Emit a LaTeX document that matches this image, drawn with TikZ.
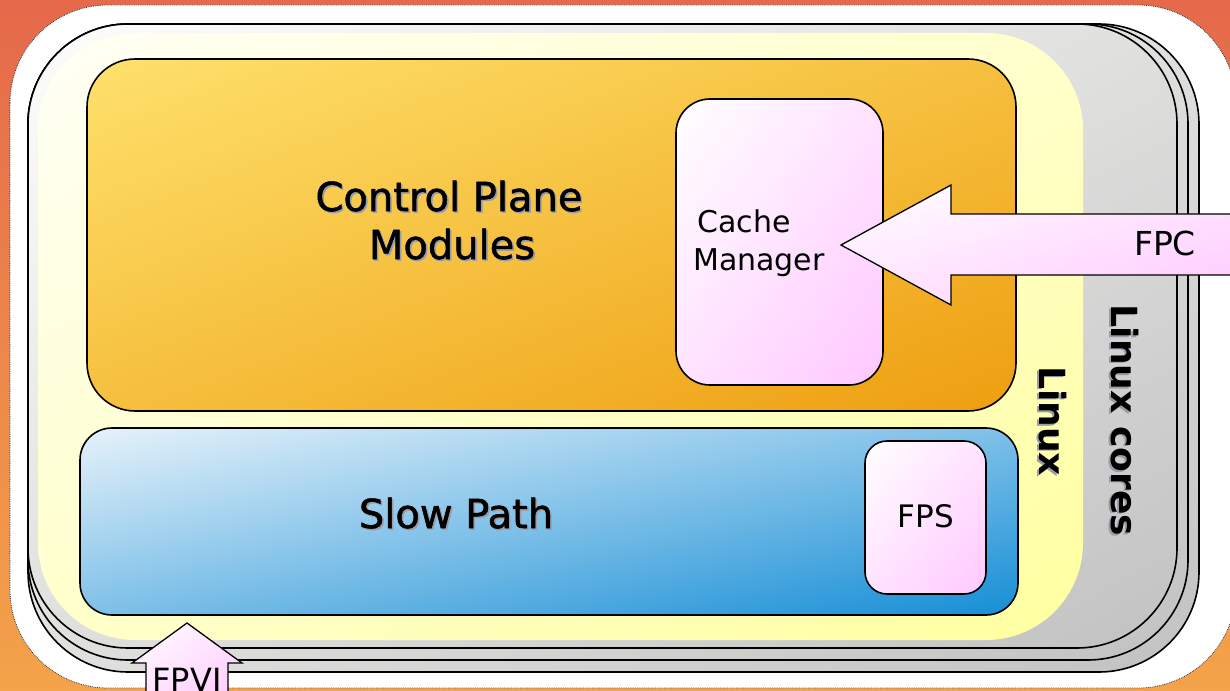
\documentclass[tikz,border=0pt]{standalone}
\usepackage{fontspec}
\setmainfont{DejaVu Sans}
\newfontfamily\heavyfont{DejaVu Sans}[FakeBold=1.3]
\usetikzlibrary{shadings}
\definecolor{bgTop}{HTML}{E5694B}
\definecolor{bgBot}{HTML}{F4A34A}
\definecolor{cardA}{HTML}{FDFDFB}
\definecolor{cardB}{HTML}{C2C2C2}
\definecolor{ylA}{HTML}{FFFFF6}
\definecolor{ylB}{HTML}{FFFFA0}
\definecolor{orA}{HTML}{FEE16C}
\definecolor{orB}{HTML}{EE9E10}
\definecolor{blA}{HTML}{E6F2FA}
\definecolor{blB}{HTML}{168ED6}
\definecolor{pkA}{HTML}{FFFFFF}
\definecolor{pkB}{HTML}{FFC8FF}
\definecolor{shadowGray}{HTML}{9C9CA8}
\newcommand\shtext[1]{\makebox[0pt][l]{\hspace{1.6pt}\raisebox{-1.6pt}{\textcolor{shadowGray}{#1}}}#1}
\begin{document}
\begin{tikzpicture}[x=1pt,y=-1pt,
  diag/.style 2 args={upper left=#1, lower right=#2,
    upper right=#1!50!#2, lower left=#1!50!#2},
  panel/.style={draw=black, line width=1.6pt, inner sep=0pt, outer sep=0pt,
    anchor=north west},
  card/.style={panel, line width=1.6pt, rounded corners=100pt, diag={cardA}{cardB}},
  label/.style={inner sep=0pt, anchor=base, text=black},
  big/.style={label, font=\fontsize{40}{48}\heavyfont},
  mid/.style={label, font=\fontsize{30}{36}\selectfont},
  side/.style={label, font=\fontsize{36}{40}\selectfont\bfseries, rotate=-90},
  blockarrow/.style={draw=black, line width=1.3pt, line join=miter, diag={pkA}{pkB}}]
\useasboundingbox (0,0) rectangle (1230,690);
\clip (0,0) rectangle (1230,690);
% backdrop
\shade[top color=bgTop, bottom color=bgBot] (0,0) rectangle (1230,690);
\draw[fill=white, draw=black!80, densely dotted, line width=0.8pt, rounded corners=98pt]
  (10,5) rectangle (1236,688);
% stacked core cards
\node[card, minimum width=1171pt, minimum height=648pt] (card3) at (28,24) {};
\node[card, minimum width=1160pt, minimum height=636pt] (card2) at (28,24) {};
\node[card, minimum width=1149pt, minimum height=624pt] (card1) at (28,24) {};
% Linux area
\node[panel, draw=none, rounded corners=97pt, diag={ylA}{ylB},
  minimum width=1045pt, minimum height=607pt] (linux) at (38,33) {};
% main modules
\node[panel, rounded corners=48pt, diag={orA}{orB},
  minimum width=929pt, minimum height=352pt] (cpm) at (87,59) {};
\node[panel, rounded corners=32pt, diag={blA}{blB},
  minimum width=938pt, minimum height=187pt] (slow) at (80,428) {};
\node[panel, rounded corners=34pt, diag={pkA}{pkB},
  minimum width=207pt, minimum height=286pt] (cache) at (676,99) {};
\node[panel, rounded corners=22pt, diag={pkA}{pkB},
  minimum width=121pt, minimum height=153pt] (fps) at (865,441) {};
% FPC arrow into the cache manager
\draw[blockarrow] (841,245) -- (951,185) -- (951,214) -- (1240,214)
  -- (1240,275) -- (951,275) -- (951,305) -- cycle;
% FPVI arrow into the slow path
\draw[blockarrow] (187,623) -- (242,663) -- (228,663) -- (228,700)
  -- (146,700) -- (146,663) -- (132,663) -- cycle;
% texts
\node[big] (cpm1) at (449,211) {\shtext{Control Plane}};
\node[big] (cpm2) at (452,259) {\shtext{Modules}};
\node[big] (slowt) at (456,528) {\shtext{Slow Path}};
\node[mid, anchor=base west] (cache1) at (697,232) {Cache};
\node[mid, anchor=base west] (cache2) at (693,270) {Manager};
\node[mid, font=\fontsize{31}{36}\selectfont] (fpst) at (926,527) {FPS};
\node[mid, font=\fontsize{33}{36}\selectfont] (fpct) at (1165,255) {FPC};
\node[mid, font=\fontsize{32}{36}\selectfont] (fpvit) at (187,691) {FPVI};
\node[side] (linuxt) at (1039,421) {\shtext{Linux}};
\node[side] (corest) at (1111,420) {\shtext{Linux cores}};
\end{tikzpicture}
\end{document}
